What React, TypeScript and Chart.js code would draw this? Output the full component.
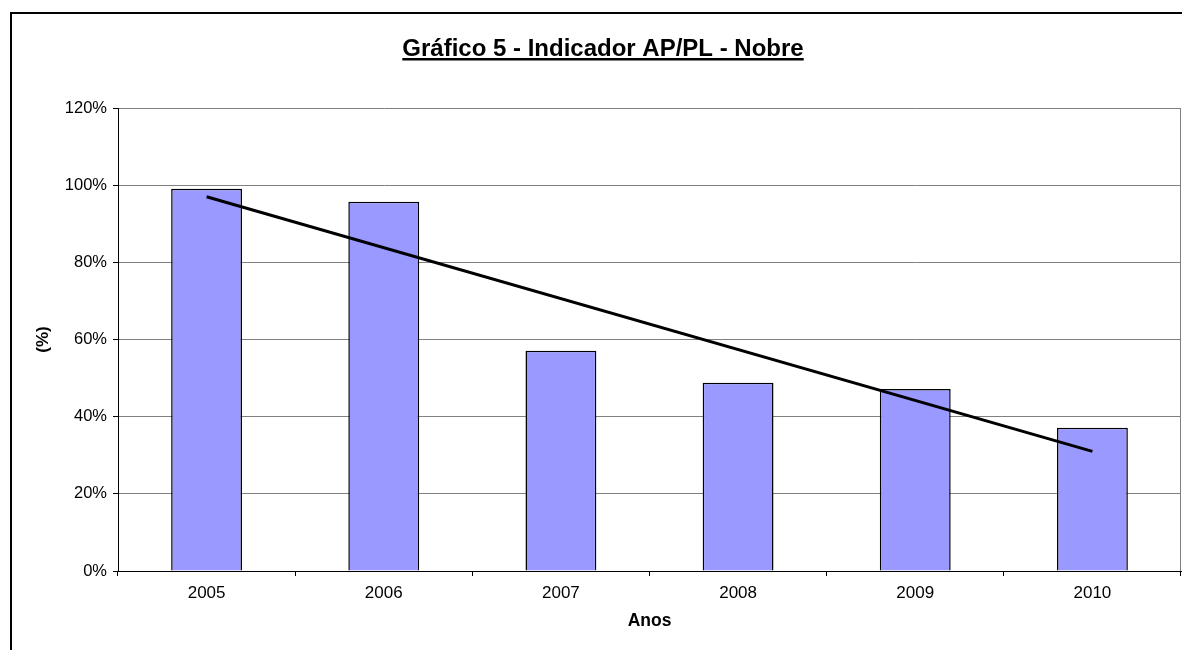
import React, { useEffect, useRef } from "react";
import { Chart, registerables } from "chart.js";

Chart.register(...registerables);

const years = ["2005", "2006", "2007", "2008", "2009", "2010"];
const apPlValues = [99.1, 95.7, 57.1, 48.8, 47.2, 37.1];
const trendValues = [97.0, null, null, null, null, 31.0];
const chartTitle = "Gráfico 5 - Indicador AP/PL - Nobre";
const yTitle = "(%)";
const xTitle = "Anos";

const FONT = "'Liberation Sans', Arial, sans-serif";

const framePlugin = {
  id: "frameAndTitle",
  beforeDraw(chart: any) {
    const { ctx } = chart;
    ctx.save();
    ctx.fillStyle = "#ffffff";
    ctx.fillRect(0, 0, chart.width, chart.height);
    ctx.strokeStyle = "#000000";
    ctx.lineWidth = 2;
    ctx.strokeRect(11, 13, chart.width + 50, chart.height + 50);
    ctx.restore();
  },
  afterDraw(chart: any) {
    const { ctx, chartArea } = chart;
    ctx.save();
    ctx.strokeStyle = "#808080";
    ctx.lineWidth = 1;
    ctx.beginPath();
    ctx.moveTo(Math.round(chartArea.right) - 0.5, chartArea.top);
    ctx.lineTo(Math.round(chartArea.right) - 0.5, chartArea.bottom);
    ctx.stroke();
    ctx.font = "bold 24px " + FONT;
    ctx.fillStyle = "#000000";
    ctx.textAlign = "center";
    ctx.textBaseline = "alphabetic";
    const cx = 603;
    ctx.fillText(chartTitle, cx, 56);
    const w = ctx.measureText(chartTitle).width;
    ctx.fillRect(cx - w / 2, 58, w, 2.5);
    ctx.restore();
  },
};

export default function App() {
  const ref = useRef<HTMLCanvasElement | null>(null);
  useEffect(() => {
    if (!ref.current) return;
    const chart = new Chart(ref.current, {
      type: "bar",
      data: {
        labels: years,
        datasets: [
          {
            type: "line",
            data: trendValues as any,
            borderColor: "#000000",
            borderWidth: 3,
            pointRadius: 0,
            spanGaps: true,
            fill: false,
            order: 0,
          } as any,
          {
            type: "bar",
            data: apPlValues,
            backgroundColor: "#9999FF",
            borderColor: "#000000",
            borderWidth: 1.5,
            barPercentage: 0.4,
            categoryPercentage: 1,
            order: 1,
          },
        ],
      },
      options: {
        responsive: false,
        animation: false,
        devicePixelRatio: 1,
        layout: { padding: { top: 108, right: 1, left: 0, bottom: 0 } },
        plugins: { legend: { display: false }, title: { display: false }, tooltip: { enabled: false } },
        scales: {
          x: {
            offset: true,
            grid: {
              offset: true,
              drawOnChartArea: false,
              drawTicks: true,
              tickLength: 5,
              color: "#000000",
            },
            border: { color: "#000000", width: 1 },
            ticks: {
              color: "#000000",
              font: { family: FONT, size: 17 },
              padding: 7,
              maxRotation: 0,
            },
            title: {
              display: true,
              text: xTitle,
              color: "#000000",
              font: { family: FONT, size: 17.5, weight: "bold" },
              padding: { top: 0, bottom: 18 },
            },
            afterFit(scale: any) {
              scale.height = 79;
            },
          },
          y: {
            min: 0,
            max: 120,
            ticks: {
              stepSize: 20,
              color: "#000000",
              font: { family: FONT, size: 16.5 },
              padding: 6,
              callback: (v: any) => v + "%",
            },
            grid: {
              color: "#808080",
              tickColor: "#000000",
              tickLength: 5,
            },
            border: { color: "#000000", width: 1 },
            title: {
              display: true,
              text: yTitle,
              color: "#000000",
              font: { family: FONT, size: 17, weight: "bold" },
              padding: { top: 33, bottom: 0 },
            },
            afterFit(scale: any) {
              scale.width = 118;
            },
          },
        },
      },
      plugins: [framePlugin],
    });
    return () => chart.destroy();
  }, []);
  return (
    <div style={{ position: "absolute", left: 0, top: 0, width: 1182, height: 650 }}>
      <canvas ref={ref} width={1182} height={650} style={{ width: 1182, height: 650, display: "block" }} />
    </div>
  );
}
